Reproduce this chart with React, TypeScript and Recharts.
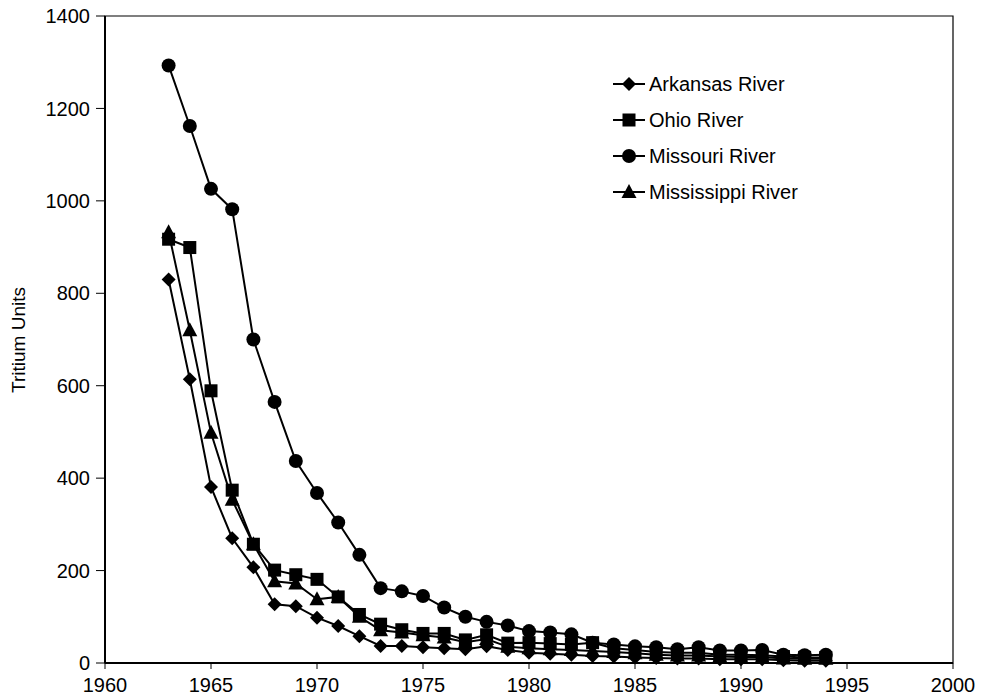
import { LineChart, Line, XAxis, YAxis, ReferenceArea } from "recharts";

const years = [
  1963, 1964, 1965, 1966, 1967, 1968, 1969, 1970, 1971, 1972, 1973, 1974, 1975, 1976, 1977, 1978,
  1979, 1980, 1981, 1982, 1983, 1984, 1985, 1986, 1987, 1988, 1989, 1990, 1991, 1992, 1993, 1994,
];
const arkansas = [
  830, 614, 381, 270, 207, 127, 123, 98, 80, 58, 37, 37, 34, 32, 30, 36,
  28, 22, 20, 18, 15, 14, 12, 11, 10, 10, 8, 8, 8, 6, 5, 5,
];
const ohio = [
  917, 899, 589, 374, 257, 201, 191, 181, 143, 105, 84, 72, 64, 64, 50, 61,
  43, 44, 42, 40, 44, 32, 28, 24, 22, 22, 18, 18, 17, 14, 12, 12,
];
const missouri = [
  1293, 1162, 1026, 982, 700, 565, 437, 368, 304, 234, 162, 155, 145, 120, 100, 89,
  81, 69, 66, 62, 44, 40, 36, 34, 30, 34, 27, 27, 28, 18, 17, 18,
];
const mississippi = [
  932, 720, 498, 353, 257, 177, 172, 138, 143, 100, 71, 66, 60, 55, 45, 52,
  35, 32, 30, 28, 26, 24, 21, 18, 16, 16, 14, 13, 13, 10, 9, 9,
];
const xTicks = [1960, 1965, 1970, 1975, 1980, 1985, 1990, 1995, 2000];
const yTicks = [0, 200, 400, 600, 800, 1000, 1200, 1400];

const data = years.map((year, i) => ({
  year,
  arkansas: arkansas[i],
  ohio: ohio[i],
  missouri: missouri[i],
  mississippi: mississippi[i],
}));

const FONT = "'Liberation Sans', Arial, Helvetica, sans-serif";

type Shape = "diamond" | "square" | "circle" | "triangle";

function Marker({ cx, cy, shape }: { cx: number; cy: number; shape: Shape }) {
  if (cx == null || cy == null) return null;
  if (shape === "diamond")
    return <polygon points={`${cx},${cy - 7} ${cx + 7},${cy} ${cx},${cy + 7} ${cx - 7},${cy}`} fill="#000" />;
  if (shape === "square") return <rect x={cx - 6.5} y={cy - 6.5} width={13} height={13} fill="#000" />;
  if (shape === "circle") return <circle cx={cx} cy={cy} r={7} fill="#000" />;
  return <polygon points={`${cx},${cy - 8} ${cx + 7.5},${cy + 6} ${cx - 7.5},${cy + 6}`} fill="#000" />;
}

const dotFor = (shape: Shape) => (props: any) =>
  <Marker key={`${shape}-${props.index}`} cx={props.cx} cy={props.cy} shape={shape} />;

const series: { key: string; name: string; shape: Shape }[] = [
  { key: "arkansas", name: "Arkansas River", shape: "diamond" },
  { key: "ohio", name: "Ohio River", shape: "square" },
  { key: "missouri", name: "Missouri River", shape: "circle" },
  { key: "mississippi", name: "Mississippi River", shape: "triangle" },
];

// legend drawn as plain HTML over the chart so it takes no room from the plot
function LegendBox() {
  return (
    <div style={{ position: "absolute", left: 612, top: 66, fontFamily: FONT, fontSize: 20, color: "#000" }}>
      {series.map((s) => (
        <div key={s.key} style={{ display: "flex", alignItems: "center", height: 36, whiteSpace: "nowrap" }}>
          <svg width={34} height={20} style={{ marginRight: 3 }}>
            <line x1={1} y1={10} x2={33} y2={10} stroke="#000" strokeWidth={2} />
            <Marker cx={17} cy={10} shape={s.shape} />
          </svg>
          <span>{s.name}</span>
        </div>
      ))}
    </div>
  );
}

export default function App() {
  return (
    <div style={{ position: "absolute", left: 0, top: 0, width: 981, height: 700, background: "#fff" }}>
      <LineChart
        width={981}
        height={700}
        data={data}
        margin={{ top: 16, right: 28, bottom: 0, left: 0 }}
        style={{ fontFamily: FONT }}
      >
        <ReferenceArea x1={1960} x2={2000} y1={0} y2={1400} fill="none" stroke="#000" strokeWidth={1.2} />
        <XAxis
          dataKey="year"
          type="number"
          domain={[1960, 2000]}
          ticks={xTicks}
          allowDataOverflow
          height={37}
          tickSize={6}
          tickMargin={9}
          stroke="#000"
          axisLine={{ stroke: "#000", strokeWidth: 2 }}
          tickLine={{ stroke: "#000", strokeWidth: 1 }}
          tick={{ fontSize: 20, fill: "#000" }}
        />
        <YAxis
          type="number"
          domain={[0, 1400]}
          ticks={yTicks}
          width={105}
          tickSize={9}
          tickMargin={6}
          stroke="#000"
          axisLine={{ stroke: "#000", strokeWidth: 2 }}
          tickLine={{ stroke: "#000", strokeWidth: 1 }}
          tick={{ fontSize: 20, fill: "#000" }}
          label={{
            content: () => (
              <text
                x={18}
                y={340}
                transform="rotate(-90, 18, 340)"
                textAnchor="middle"
                dominantBaseline="central"
                fontSize={19}
                fill="#000"
                fontFamily={FONT}
              >
                Tritium Units
              </text>
            ),
          }}
        />
        {series.map((s) => (
          <Line
            key={s.key}
            dataKey={s.key}
            name={s.name}
            stroke="#000"
            strokeWidth={2}
            dot={dotFor(s.shape)}
            activeDot={false}
            isAnimationActive={false}
          />
        ))}
      </LineChart>
      <LegendBox />
    </div>
  );
}
